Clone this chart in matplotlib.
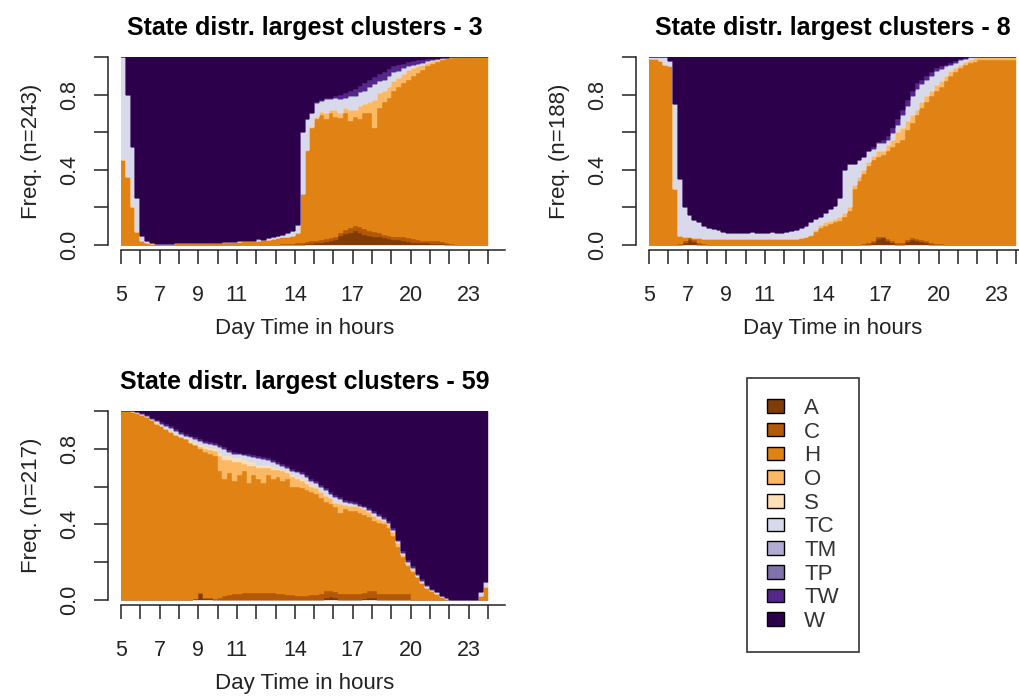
import numpy as np
import matplotlib
matplotlib.use("Agg")
import matplotlib.pyplot as plt
from matplotlib.patches import Patch

plt.rcParams["font.family"] = ["Liberation Sans", "DejaVu Sans"]

states = ["A", "C", "H", "O", "S", "TC", "TM", "TP", "TW", "W"]
state_colors = ["#7F3B08", "#B35806", "#E08214", "#FDB863", "#FEE0B6",
                "#D8DAEB", "#B2ABD2", "#8073AC", "#542788", "#2D004B"]

# time grid: 15 minute slots from 5:00 to 24:00
t_start, t_step, n_slots = 5, 0.25, 76
xtick_pos = list(range(5, 25))
xtick_labels = ["5", "", "7", "", "9", "", "11", "", "", "14", "", "", "17", "", "", "20", "", "", "23", ""]
ytick_pos = [0, 0.2, 0.4, 0.6, 0.8, 1.0]
ytick_labels = ["0.0", "", "0.4", "", "0.8", ""]

# ---- cluster 3 (n=243) ----
a_3 = [0, 0, 0, 0, 0, 0, 0, 0, 0, 0, 0, 0, 0, 0, 0, 0,
       0, 0, 0, 0, 0, 0, 0, 0, 0, 0, 0, 0, 0, 0, 0, 0,
       0, 0, 0, 0, 0, 0, .003, .005, .008, .01, .015, .02, .025, .045, .06, .065,
       .075, .065, .055, .05, .045, .04, .035, .03, .025, .025, .02, .015, .012, .01, .008, .008,
       .006, .005, .003, .002, 0, 0, 0, 0, 0, 0, 0, 0]
c_3 = [0, 0, 0, 0, 0, 0, 0, 0, 0, 0, 0, 0, 0, 0, 0, 0,
       0, 0, 0, 0, 0, 0, 0, 0, 0, 0, 0, 0, 0, 0, 0, 0,
       0, .003, .005, .005, .008, .01, .012, .015, .015, .015, .015, .015, .015, .02, .02, .025,
       .025, .03, .03, .025, .025, .025, .02, .02, .02, .02, .02, .02, .018, .015, .015, .015,
       .015, .015, .012, .01, .005, 0, 0, 0, 0, 0, 0, 0]
h_3 = [.45, .36, .20, .07, .02, .01, .005, .005, .005, .005, .005, .008, .01, .012, .012, .012,
       .012, .012, .012, .013, .013, .015, .018, .016, .018, .02, .02, .022, .022, .025, .025, .03,
       .035, .037, .04, .045, .057, .26, .485, .60, .647, .665, .64, .665, .64, .605, .62, .57,
       .58, .575, .615, .625, .55, .665, .705, .73, .775, .795, .82, .845, .87, .89, .907, .927,
       .944, .955, .97, .978, .99, 1, 1, 1, 1, 1, 1, 1]
o_3 = [0, 0, 0, 0, 0, 0, 0, 0, 0, 0, 0, 0, 0, 0, 0, 0,
       0, 0, 0, 0, 0, 0, 0, 0, 0, 0, 0, 0, 0, 0, 0, 0,
       0, 0, 0, 0, 0, 0, .005, .01, .01, .02, .03, .02, .04, .03, .03, .06,
       .04, .07, .05, .06, .15, .08, .06, .06, .05, .05, .05, .05, .04, .035, .03, .02,
       .015, .01, .008, .007, .005, 0, 0, 0, 0, 0, 0, 0]
tc_3 = [.55, .44, .32, .18, .03, .01, .005, 0, 0, 0, 0, 0, 0, 0, 0, 0,
        0, 0, 0, 0, 0, 0, 0, 0, .005, 0, 0, 0, .008, 0, .01, .01,
        .012, .015, .02, .025, .04, .33, .165, .07, .075, .055, .075, .055, .06, .075, .05, .07,
        .07, .075, .07, .08, .085, .06, .06, .06, .05, .035, .03, .02, .02, .012, .01, .008,
        .005, .007, .002, 0, 0, 0, 0, 0, 0, 0, 0, 0]
tw_3 = [0, 0, 0, 0, 0, 0, 0, 0, 0, 0, 0, 0, 0, 0, 0, 0,
        0, 0, 0, 0, 0, 0, 0, 0, 0, 0, 0, 0, 0, 0, 0, 0,
        0, 0, 0, 0, 0, 0, 0, 0, .005, .005, .005, .005, .01, .02, .03, .03,
        .04, .03, .04, .04, .04, .04, .04, .035, .03, .03, .025, .025, .02, .02, .015, .01,
        .005, 0, 0, 0, 0, 0, 0, 0, 0, 0, 0, 0]
w_3 = [0, .20, .48, .75, .95, .98, .99, .995, .995, .995, .995, .992, .99, .988, .988, .988,
       .988, .988, .988, .987, .987, .985, .982, .984, .977, .98, .98, .978, .97, .975, .965, .96,
       .953, .945, .935, .925, .895, .40, .33, .30, .24, .23, .22, .22, .21, .20, .19, .18,
       .17, .155, .14, .12, .105, .09, .08, .065, .05, .045, .035, .025, .02, .018, .015, .012,
       .01, .008, .005, .003, 0, 0, 0, 0, 0, 0, 0, 0]

# ---- cluster 8 (n=188) ----
a_8 = [0, 0, 0, 0, 0, 0, 0, .01, .025, .015, 0, 0, 0, 0, 0, 0,
       0, 0, 0, 0, 0, 0, 0, 0, 0, 0, 0, 0, 0, 0, 0, 0,
       0, 0, 0, 0, 0, 0, 0, 0, 0, 0, 0, 0, 0, 0, .01, .03,
       .035, .02, .01, 0, 0, .015, .025, .02, .015, .01, 0, 0, 0, 0, 0, 0,
       0, 0, 0, 0, 0, 0, 0, 0, 0, 0, 0, 0]
c_8 = [0, 0, 0, 0, 0, 0, .005, .01, .01, .01, .01, .005, 0, 0, 0, 0,
       0, 0, 0, 0, 0, 0, 0, 0, 0, 0, 0, 0, 0, 0, 0, 0,
       0, 0, 0, 0, 0, 0, 0, 0, 0, 0, 0, 0, .005, .01, .01, .01,
       .01, .01, .01, .01, .01, .01, .01, .01, .01, .01, .008, .005, .005, 0, 0, 0,
       0, 0, 0, 0, 0, 0, 0, 0, 0, 0, 0, 0]
h_8 = [.99, .99, .98, .96, .95, .30, .045, .025, .01, .015, .025, .025, .03, .03, .03, .03,
       .03, .03, .03, .03, .03, .03, .03, .03, .03, .03, .03, .03, .03, .03, .03, .035,
       .04, .05, .07, .09, .10, .11, .12, .13, .15, .18, .30, .34, .375, .41, .43, .43,
       .435, .47, .50, .53, .55, .585, .615, .66, .705, .74, .782, .815, .835, .87, .90, .92,
       .94, .96, .97, .975, .985, .985, .985, .985, .985, .985, .985, .985]
o_8 = [0, 0, 0, 0, 0, 0, 0, 0, 0, 0, 0, 0, 0, 0, 0, 0,
       0, 0, 0, 0, 0, 0, 0, 0, 0, 0, 0, 0, 0, 0, 0, 0,
       0, .005, .01, .015, .02, .02, .02, .02, .02, .02, .02, .02, .02, .02, .025, .03,
       .02, .03, .04, .06, .06, .05, .04, .03, .03, .03, .03, .03, .03, .03, .025, .02,
       .02, .015, .015, .02, .015, .015, .015, .015, .015, .015, .015, .015]
tc_8 = [.01, .01, .02, .04, .03, .45, .30, .16, .115, .095, .09, .07, .06, .055, .05, .04,
        .035, .035, .032, .035, .035, .038, .035, .035, .035, .038, .035, .035, .04, .045, .05, .055,
        .06, .065, .06, .045, .05, .06, .07, .10, .23, .23, .11, .09, .07, .06, .035, .04,
        .045, .03, .035, .04, .07, .08, .10, .11, .095, .09, .08, .075, .065, .05, .035, .03,
        .025, .017, .013, .005, 0, 0, 0, 0, 0, 0, 0, 0]
tw_8 = [0, 0, 0, 0, 0, 0, 0, 0, 0, 0, 0, 0, 0, 0, 0, 0,
        0, 0, 0, 0, 0, 0, 0, 0, 0, 0, 0, 0, 0, 0, 0, 0,
        0, 0, 0, 0, 0, 0, 0, 0, 0, 0, 0, 0, 0, 0, .01, .01,
        .015, .02, .025, .03, .03, .03, .03, .03, .025, .02, .02, .015, .015, .01, .01, .01,
        .005, .003, 0, 0, 0, 0, 0, 0, 0, 0, 0, 0]
w_8 = [0, 0, 0, 0, .02, .25, .65, .80, .85, .87, .88, .90, .91, .915, .92, .93,
       .935, .935, .938, .935, .935, .932, .935, .935, .935, .932, .935, .935, .93, .925, .92, .91,
       .90, .88, .86, .85, .83, .81, .79, .75, .60, .57, .57, .55, .53, .50, .48, .45,
       .44, .42, .38, .33, .28, .23, .18, .14, .12, .10, .08, .06, .05, .04, .03, .02,
       .01, .005, .002, 0, 0, 0, 0, 0, 0, 0, 0, 0]

# ---- cluster 59 (n=217) ----
a_59 = [0, 0, 0, 0, 0, 0, 0, 0, 0, 0, 0, 0, 0, 0, 0, .005,
        .03, .005, .003, 0, 0, 0, 0, 0, 0, 0, 0, 0, 0, 0, 0, 0,
        0, 0, 0, 0, 0, 0, 0, 0, 0, 0, .01, .015, .01, 0, 0, 0,
        0, 0, .005, .01, .01, 0, 0, 0, 0, 0, 0, 0, 0, 0, 0, 0,
        0, 0, 0, 0, 0, 0, 0, 0, 0, 0, 0, 0]
c_59 = [0, 0, 0, 0, 0, 0, 0, 0, 0, 0, 0, 0, 0, 0, 0, 0,
        .005, .005, .005, .003, .01, .02, .025, .03, .03, .035, .035, .035, .035, .035, .035, .035,
        .03, .03, .025, .025, .02, .02, .02, .025, .025, .03, .035, .035, .03, .03, .03, .03,
        .03, .03, .03, .035, .035, .03, .03, .03, .03, .03, .03, .03, 0, 0, 0, 0,
        0, 0, 0, 0, 0, 0, 0, 0, 0, 0, 0, 0]
h_59 = [1, 1, .995, .99, .98, .97, .95, .93, .92, .905, .89, .875, .86, .85, .83, .815,
        .765, .775, .767, .757, .67, .62, .645, .60, .63, .645, .585, .625, .605, .585, .625, .605,
        .62, .60, .615, .575, .58, .57, .56, .545, .535, .51, .475, .46, .45, .43, .45, .44,
        .44, .43, .415, .395, .375, .38, .37, .35, .31, .25, .20, .15, .15, .12, .09, .065,
        .045, .03, .015, .005, 0, 0, 0, 0, 0, 0, .02, .07]
o_59 = [0, 0, 0, 0, 0, 0, 0, 0, 0, 0, 0, 0, 0, 0, 0, 0,
        .01, .015, .02, .03, .08, .10, .07, .10, .07, .04, .09, .05, .06, .08, .04, .05,
        .04, .05, .03, .05, .04, .04, .035, .03, .03, .03, .03, .03, .025, .05, .025, .03,
        .025, .03, .03, .025, .025, .02, .02, .02, .02, .02, .01, .01, .01, 0, 0, 0,
        0, 0, 0, 0, 0, 0, 0, 0, 0, 0, 0, 0]
s_59 = [0, 0, 0, 0, 0, 0, 0, 0, 0, 0, 0, 0, .005, .005, .01, .01,
        .01, .01, .01, .01, .02, .02, .02, .02, .02, .02, .02, .02, .015, .015, .015, .015,
        .01, .01, .01, .01, .01, .01, .01, .01, .005, 0, 0, 0, 0, 0, 0, 0,
        0, 0, 0, 0, 0, 0, 0, 0, 0, 0, 0, 0, 0, 0, 0, 0,
        0, 0, 0, 0, 0, 0, 0, 0, 0, 0, 0, 0]
tc_59 = [0, 0, .005, .005, .005, .005, .01, .015, .01, .015, .02, .02, .015, .015, .02, .02,
         .02, .02, .02, .02, .03, .04, .025, .025, .02, .025, .03, .025, .035, .03, .025, .025,
         .02, .02, .02, .025, .025, .025, .025, .02, .025, .03, .03, .02, .03, .025, .015, .015,
         .015, .01, .01, .01, .015, .015, .01, .01, .01, .01, .01, .01, .01, .01, .01, .01,
         .01, .01, .005, .005, 0, 0, 0, 0, 0, 0, .02, .025]
tw_59 = [0, 0, 0, 0, .005, .005, .005, .005, .01, .01, .01, .01, .01, .01, .01, .01,
         .01, .01, .01, .01, .01, .01, .01, .01, .01, .01, .01, .01, .01, .01, .01, .01,
         .01, .01, .01, .01, .01, .01, .01, .01, .01, .01, .01, .01, .01, .01, .01, .01,
         .01, .01, .01, .01, .01, .01, .01, .01, .01, .01, .01, .01, .01, .01, .01, .005,
         .005, 0, 0, 0, 0, 0, 0, 0, 0, 0, 0, 0]
w_59 = [0, 0, 0, .005, .01, .02, .035, .05, .06, .07, .08, .095, .11, .12, .13, .14,
        .15, .16, .165, .17, .18, .19, .205, .215, .22, .225, .23, .235, .24, .245, .25, .26,
        .27, .28, .29, .305, .315, .325, .34, .36, .37, .39, .41, .43, .445, .455, .47, .475,
        .48, .49, .50, .515, .53, .545, .56, .58, .62, .68, .74, .79, .82, .86, .89, .92,
        .94, .96, .98, .99, 1, 1, 1, 1, 1, 1, .96, .905]

clusters = [
    ("State distr. largest clusters - 3", "Freq. (n=243)",
     {"A": a_3, "C": c_3, "H": h_3, "O": o_3, "TC": tc_3, "TW": tw_3, "W": w_3}),
    ("State distr. largest clusters - 8", "Freq. (n=188)",
     {"A": a_8, "C": c_8, "H": h_8, "O": o_8, "TC": tc_8, "TW": tw_8, "W": w_8}),
    ("State distr. largest clusters - 59", "Freq. (n=217)",
     {"A": a_59, "C": c_59, "H": h_59, "O": o_59, "S": s_59, "TC": tc_59, "TW": tw_59, "W": w_59}),
]

W, H = 1019, 697
fig = plt.figure(figsize=(W / 100, H / 100), dpi=100)
boxes = [(121, 57, 367, 188), (649, 57, 367, 188), (121, 411, 367, 189)]
ink = "#222222"

edges = t_start + t_step * np.arange(n_slots + 1)

for (title, ylab, series), (px, py, pw, ph) in zip(clusters, boxes):
    ax = fig.add_axes([px / W, 1 - (py + ph) / H, pw / W, ph / H])
    tab = np.array([series.get(s, np.zeros(n_slots)) for s in states], dtype=float)
    freq = tab / tab.sum(axis=0)
    bottom = np.zeros(n_slots)
    for row, col in zip(freq, state_colors):
        top = bottom + row
        ax.fill_between(edges, np.append(bottom, bottom[-1]), np.append(top, top[-1]),
                        step="post", facecolor=col, edgecolor=col, linewidth=0.3)
        bottom = top

    ax.set_xlim(5, 24)
    ax.set_ylim(0, 1)
    for s in ["top", "right"]:
        ax.spines[s].set_visible(False)
    ax.spines["left"].set_position(("outward", 9.4))
    ax.spines["bottom"].set_position(("outward", 3.6))
    ax.spines["bottom"].set_bounds(5, 24.9)
    for s in ["left", "bottom"]:
        ax.spines[s].set_linewidth(1.1)
        ax.spines[s].set_color(ink)

    ax.set_xticks(xtick_pos)
    ax.set_xticklabels(xtick_labels)
    ax.set_yticks(ytick_pos)
    ax.set_yticklabels(ytick_labels, rotation=90, va="center")
    ax.tick_params(axis="both", direction="out", length=10, width=1.1, colors=ink, labelsize=15.5)
    ax.tick_params(axis="x", pad=15)
    ax.tick_params(axis="y", pad=10)

    ax.set_xlabel("Day Time in hours", fontsize=16, color=ink, labelpad=9)
    ax.set_ylabel(ylab, fontsize=16, color=ink, labelpad=12)
    ax.set_title(title, fontsize=18, fontweight="bold", color="black", pad=16)

handles = [Patch(facecolor=c, edgecolor="black", linewidth=1) for c in state_colors]
leg = fig.legend(handles, states, loc="center", bbox_to_anchor=(803 / W, 1 - 515 / H),
                 frameon=True, fancybox=False, edgecolor="black", fontsize=16,
                 handlelength=0.75, handleheight=0.55, handletextpad=0.9,
                 labelspacing=0.12, borderpad=0.9, borderaxespad=0)
leg.get_frame().set_linewidth(1.2)
for txt in leg.get_texts():
    txt.set_color("#333333")

fig.savefig("out.png", dpi=100)
